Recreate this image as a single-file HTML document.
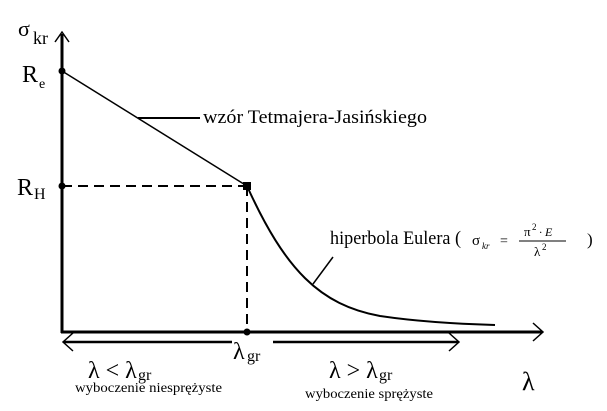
<!DOCTYPE html><html><head><style>body{margin:0;background:#fff}svg{display:block}text{font-family:"Liberation Serif","DejaVu Serif",serif;fill:#000}</style></head><body>
<svg width="607" height="411" xmlns="http://www.w3.org/2000/svg">
<g stroke="#000" fill="none">
<line x1="62" y1="34" x2="62" y2="333" stroke-width="3"/>
<polyline points="55,42 62,32 69,42" stroke-width="1.5"/>
<line x1="61" y1="332" x2="542" y2="332" stroke-width="3"/>
<polyline points="533,323 543,332 533,341" stroke-width="1.5"/>
<line x1="62" y1="71" x2="247" y2="186" stroke-width="1.5"/>
<line x1="62" y1="186" x2="247" y2="186" stroke-width="2" stroke-dasharray="10,6"/>
<line x1="247" y1="186" x2="247" y2="332" stroke-width="2" stroke-dasharray="10,6"/>
<path d="M247,186 C285,270 320,305 380,316 C420,322 460,324 495,325" stroke-width="2"/>
<line x1="138" y1="118" x2="200" y2="118" stroke-width="2"/>
<line x1="313" y1="284" x2="333" y2="257" stroke-width="1.5"/>
<line x1="64" y1="342" x2="232" y2="342" stroke-width="2.5"/>
<polyline points="73,333 63,342 73,351" stroke-width="1.5"/>
<line x1="273" y1="342" x2="458" y2="342" stroke-width="2.5"/>
<polyline points="449,333 459,342 449,351" stroke-width="1.5"/>
</g>
<circle cx="62" cy="71" r="3.5"/><circle cx="62" cy="186" r="3.5"/><circle cx="247" cy="332" r="3.5"/>
<rect x="243" y="182" width="8" height="8"/>
<text x="18" y="36" font-size="22">σ</text><text x="33" y="44" font-size="18">kr</text>
<text x="22" y="82" font-size="24">R</text><text x="39" y="88" font-size="14">e</text>
<text x="17" y="195" font-size="24">R</text><text x="34" y="199" font-size="16">H</text>
<text x="203" y="123" font-size="19" textLength="224" lengthAdjust="spacingAndGlyphs">wzór Tetmajera-Jasińskiego</text>
<text x="330" y="244" font-size="19" textLength="131" lengthAdjust="spacingAndGlyphs">hiperbola Eulera (</text>
<text x="472" y="245" font-size="15">σ</text><text x="482" y="249" font-size="9" font-style="italic">kr</text>
<text x="500" y="245" font-size="14">=</text>
<text x="524" y="236" font-size="13">π</text><text x="532" y="230" font-size="9">2</text><text x="539" y="236" font-size="12" font-style="italic">· E</text>
<line x1="519" y1="241" x2="566" y2="241" stroke="#000" stroke-width="1"/>
<text x="534" y="256" font-size="13">λ</text><text x="542" y="250" font-size="9">2</text>
<text x="587" y="245" font-size="17">)</text>
<text x="233" y="359" font-size="24">λ</text><text x="247" y="361" font-size="16">gr</text>
<text x="88" y="378" font-size="24">λ &lt; λ</text><text x="138" y="380" font-size="16">gr</text>
<text x="329" y="378" font-size="24">λ &gt; λ</text><text x="379" y="380" font-size="16">gr</text>
<text x="522" y="390" font-size="26">λ</text>
<text x="75" y="392" font-size="14" textLength="147" lengthAdjust="spacingAndGlyphs">wyboczenie niesprężyste</text>
<text x="305" y="398" font-size="14" textLength="128" lengthAdjust="spacingAndGlyphs">wyboczenie sprężyste</text>
</svg></body></html>
